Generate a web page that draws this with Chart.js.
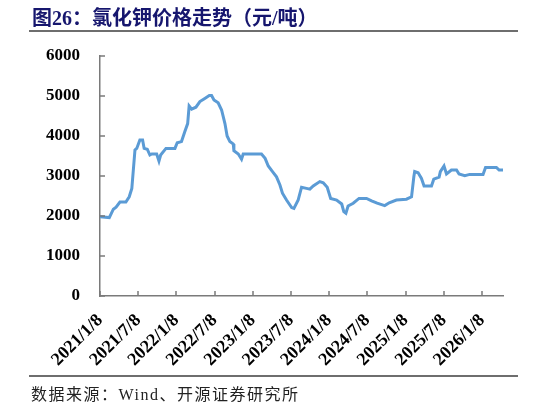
<!DOCTYPE html>
<html>
<head>
<meta charset="utf-8">
<script src="https://cdn.jsdelivr.net/npm/chart.js@4"></script>
<style>
  body { margin: 0; background: #fff; }
  #wrap { position: relative; width: 546px; height: 405px; overflow: hidden; }
  #title { position: absolute; left: 32px; top: 2px; font: bold 20px "Liberation Serif", "Noto Sans CJK SC", serif; color: #16166e; white-space: nowrap; }
  .rule { position: absolute; left: 29px; width: 489px; height: 2px; background: #6e6e6e; }
  #source { position: absolute; left: 31px; top: 381px; font: 16px "Liberation Serif", "Noto Sans CJK SC", serif; color: #222; white-space: nowrap; letter-spacing: 1.5px; }
  #box { position: absolute; left: 0; top: 0; width: 546px; height: 405px; }
</style>
</head>
<body>
<div id="wrap">
  <div id="box"><canvas id="potash_chart"></canvas></div>
  <div id="title">图26：氯化钾价格走势（元/吨）</div>
  <div class="rule" style="top:30px"></div>
  <div class="rule" style="top:375px"></div>
  <div id="source">数据来源：Wind、开源证券研究所</div>
</div>
<script>
// price points
const dates = [
  "2021-01-08","2021-02-22","2021-03-11","2021-03-24","2021-04-12","2021-05-10","2021-05-26","2021-06-08",
  "2021-06-23","2021-07-01","2021-07-16","2021-07-29","2021-08-06","2021-08-21","2021-09-03","2021-09-12",
  "2021-10-05","2021-10-16","2021-10-24","2021-11-19","2022-01-01","2022-01-12","2022-02-02","2022-02-18",
  "2022-03-01","2022-03-08","2022-03-20","2022-04-10","2022-04-29","2022-05-22","2022-06-13","2022-06-24",
  "2022-07-05","2022-07-25","2022-08-11","2022-08-27","2022-09-07","2022-09-20","2022-10-06","2022-10-09",
  "2022-10-30","2022-11-15","2022-11-23","2023-02-19","2023-03-06","2023-03-21","2023-04-11","2023-04-30",
  "2023-05-16","2023-05-28","2023-06-17","2023-07-11","2023-07-22","2023-08-12","2023-08-28","2023-09-21",
  "2023-10-07","2023-10-23","2023-11-24","2023-12-10","2023-12-29","2024-01-15","2024-02-13","2024-03-07",
  "2024-03-17","2024-03-27","2024-04-07","2024-05-01","2024-05-29","2024-07-04","2024-07-28","2024-08-24",
  "2024-09-30","2024-10-21","2024-11-25","2025-01-12","2025-02-06","2025-02-17","2025-02-21","2025-03-07",
  "2025-03-23","2025-04-05","2025-05-10","2025-05-21","2025-06-16","2025-06-22","2025-07-09","2025-07-21",
  "2025-08-14","2025-09-08","2025-09-20","2025-10-17","2025-11-10","2026-01-13","2026-01-25","2026-03-16",
  "2026-03-29","2026-04-18"
];
const prices = [
  1980,1960,2170,2220,2350,2350,2480,2690,
  3650,3690,3900,3900,3690,3670,3525,3550,
  3550,3375,3525,3690,3690,3830,3860,4110,
  4310,4750,4670,4720,4860,4940,5010,5010,
  4900,4830,4650,4310,4000,3860,3800,3630,
  3550,3420,3550,3550,3440,3250,3110,2980,
  2775,2570,2400,2210,2190,2400,2720,2690,
  2670,2750,2860,2830,2720,2440,2400,2300,
  2110,2070,2250,2320,2440,2440,2380,2320,
  2260,2330,2400,2420,2480,2980,3110,3080,
  2940,2750,2750,2920,2970,3110,3250,3050,
  3150,3150,3050,3010,3040,3040,3215,3215,
  3150,3150
];
const tickLabels = ["2021/1/8","2021/7/8","2022/1/8","2022/7/8","2023/1/8","2023/7/8",
                    "2024/1/8","2024/7/8","2025/1/8","2025/7/8","2026/1/8"];
const yTicks = [0,1000,2000,3000,4000,5000,6000];

// months since 2021/1/8
function monthsFrom(s) {
  const [y, m, d] = s.split("-").map(Number);
  return (y - 2021) * 12 + (m - 1) + (d - 8) / 30.44;
}

const points = dates.map((d, i) => ({ x: monthsFrom(d), y: prices[i] }));

const axisColor = "#7a7a7a";

// ticks point into the plot, like the original
const innerTicks = {
  id: "innerTicks",
  afterDraw(chart) {
    const ctx = chart.ctx, a = chart.chartArea;
    const xs = chart.scales.x, ys = chart.scales.y;
    ctx.save();
    ctx.strokeStyle = axisColor;
    ctx.lineWidth = 1.5;
    ctx.beginPath();
    yTicks.forEach(v => {
      const y = Math.round(ys.getPixelForValue(v));
      ctx.moveTo(a.left, y);
      ctx.lineTo(a.left + 5, y);
    });
    tickLabels.forEach((t, i) => {
      const x = Math.round(xs.getPixelForValue(i * 6));
      ctx.moveTo(x, a.bottom);
      ctx.lineTo(x, a.bottom - 5);
    });
    ctx.stroke();
    ctx.restore();
  }
};

potash_chart = new Chart("potash_chart", {
  type: "line",
  data: {
    datasets: [{
      data: points,
      borderColor: "#5b9bd5",
      borderWidth: 3,
      pointRadius: 0,
      tension: 0,
      fill: false
    }]
  },
  options: {
    responsive: true,
    maintainAspectRatio: false,
    animation: false,
    layout: { padding: { top: 56, right: 43, left: 0, bottom: 0 } },
    plugins: { legend: { display: false }, tooltip: { enabled: false } },
    scales: {
      x: {
        type: "linear",
        min: 0,
        max: 63.3,
        afterBuildTicks: (s) => { s.ticks = tickLabels.map((t, i) => ({ value: i * 6 })); },
        afterFit: (s) => { s.height = 109; },
        grid: { display: false, drawTicks: false },
        border: { color: axisColor, width: 1.5 },
        ticks: {
          color: "#000",
          font: { family: "Liberation Serif", size: 18, weight: "bold" },
          minRotation: 45,
          maxRotation: 45,
          padding: 14,
          autoSkip: false,
          callback: (v) => tickLabels[Math.round(v / 6)]
        }
      },
      y: {
        min: 0,
        max: 6000,
        afterBuildTicks: (s) => { s.ticks = yTicks.map(v => ({ value: v })); },
        afterFit: (s) => { s.width = 100; },
        grid: { display: false, drawTicks: false },
        border: { color: axisColor, width: 1.5 },
        ticks: {
          color: "#000",
          font: { family: "Liberation Serif", size: 17, weight: "bold" },
          padding: 20,
          callback: (v) => String(v)
        }
      }
    }
  },
  plugins: [innerTicks]
});
</script>
</body>
</html>
